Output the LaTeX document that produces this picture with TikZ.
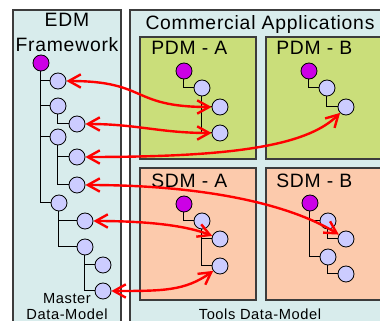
\documentclass[tikz,border=0pt]{standalone}
\usepackage{fontspec}
\setmainfont{Liberation Sans}[LetterSpace=4]
\usetikzlibrary{arrows,arrows.meta,positioning}
\definecolor{edmbg}{RGB}{216,236,236}
\definecolor{pdmbg}{RGB}{202,222,122}
\definecolor{sdmbg}{RGB}{252,202,172}
\definecolor{itembg}{RGB}{204,204,255}
\definecolor{rootbg}{RGB}{204,0,230}
\definecolor{frame}{RGB}{60,60,60}
\tikzset{font=\fontsize{14.5}{16}\selectfont}
\tikzstyle{item}=[circle,fill=itembg,draw,line width=0.6pt,inner sep=0pt,minimum size=12pt]
\tikzstyle{root}=[item,fill=rootbg]
\tikzstyle{panel}=[draw=frame,line width=1pt]
\tikzstyle{tree}=[line width=0.75pt]
\tikzstyle{title}=[inner sep=0pt]
\tikzstyle{small}=[inner sep=0pt,font=\fontsize{11}{13}\selectfont]
\tikzstyle{link}=[draw=red,line width=1.8pt,<->,>={Straight Barb[length=9pt,width=10pt]}]

\begin{document}
\begin{tikzpicture}[x=0.75pt,y=-0.75pt]
\clip (0,0) rectangle (380,321);
\fill[white] (0,0) rectangle (380,321);
% panels
\filldraw[panel,fill=edmbg] (13,10) rectangle (121,335);
\filldraw[panel,fill=edmbg] (130,10) rectangle (395,335);
\filldraw[panel,fill=pdmbg] (140,37) rectangle (256,159);
\filldraw[panel,fill=pdmbg] (266,37) rectangle (395,159);
\filldraw[panel,fill=sdmbg] (140,168) rectangle (256,300);
\filldraw[panel,fill=sdmbg] (266,168) rectangle (395,300);
% labels
\node[title,anchor=base] (edm) at (67,27) {EDM};
\node[title,anchor=base] (fw) at (67,52) {Framework};
\node[title,anchor=base] (ca) at (260,30) {Commercial Applications};
\node[title,anchor=base west] (pa) at (151,55) {PDM - A};
\node[title,anchor=base west] (pb) at (276,55) {PDM - B};
\node[title,anchor=base west] (sa) at (151,188) {SDM - A};
\node[title,anchor=base west] (sb) at (276,188) {SDM - B};
\node[small,anchor=base] (ms) at (67,304) {Master};
\node[small,anchor=base] (dm) at (67,319.5) {Data-Model};
\node[small,anchor=base] (td) at (260,319.5) {Tools Data-Model};
% master tree
\node[root] (E0) at (41,63) {};
\node[item] (E1) at (58,81) {};
\node[item] (E2) at (58,106) {};
\node[item] (E3) at (77,124) {};
\node[item] (E4) at (58,137) {};
\node[item] (E5) at (77,157) {};
\node[item] (E6) at (77,185) {};
\node[item] (E7) at (59,203) {};
\node[item] (E8) at (85,221) {};
\node[item] (E9) at (85,247) {};
\node[item] (E10) at (103,265) {};
\node[item] (E11) at (103,291) {};
% PDM - A
\node[root] (PA0) at (184,71) {};
\node[item] (PA1) at (202,88) {};
\node[item] (PA2) at (220,107) {};
\node[item] (PA3) at (220,133) {};
% PDM - B
\node[root] (PB0) at (309,71) {};
\node[item] (PB1) at (327,88) {};
\node[item] (PB2) at (346,107) {};
% SDM - A
\node[root] (SA0) at (184,204) {};
\node[item] (SA1) at (202,221) {};
\node[item] (SA2) at (220,239) {};
\node[item] (SA3) at (220,266) {};
% SDM - B
\node[root] (SB0) at (310,203) {};
\node[item] (SB1) at (328,221) {};
\node[item] (SB2) at (346,239) {};
\node[item] (SB3) at (328,257) {};
\node[item] (SB4) at (346,274) {};
% tree lines
\draw[tree] (E0) |- (E1) (E0) |- (E2) (E0) |- (E4) (E0) |- (E7)
 (E2) |- (E3) (E4) |- (E5) (E4) |- (E6) (E7) |- (E8) (E7) |- (E9)
 (E9) |- (E10) (E9) |- (E11);
\draw[tree] (PA0) |- (PA1) (PA1) |- (PA2) (PA1) |- (PA3)
 (PB0) |- (PB1) (PB1) |- (PB2)
 (SA0) |- (SA1) (SA1) |- (SA2) (SA1) |- (SA3)
 (SB0) |- (SB1) (SB0) |- (SB3) (SB1) |- (SB2) (SB3) |- (SB4);
% mappings
\draw[link] (E1) .. controls +(90,0) and +(-90,0) .. (PA2);
\draw[link] (E3) .. controls +(60,0) and +(-60,0) .. (PA3);
\draw[link] (E5) .. controls +(150,0) and +(-40,40) .. (PB2);
\draw[link] (E6) .. controls +(130,0) and +(-55,-34) .. (SB2);
\draw[link] (E8) .. controls +(70,0) and +(-30,-12) .. (SA2);
\draw[link] (E11) .. controls +(60,0) and +(-35,25) .. (SA3);
\end{tikzpicture}
\end{document}
